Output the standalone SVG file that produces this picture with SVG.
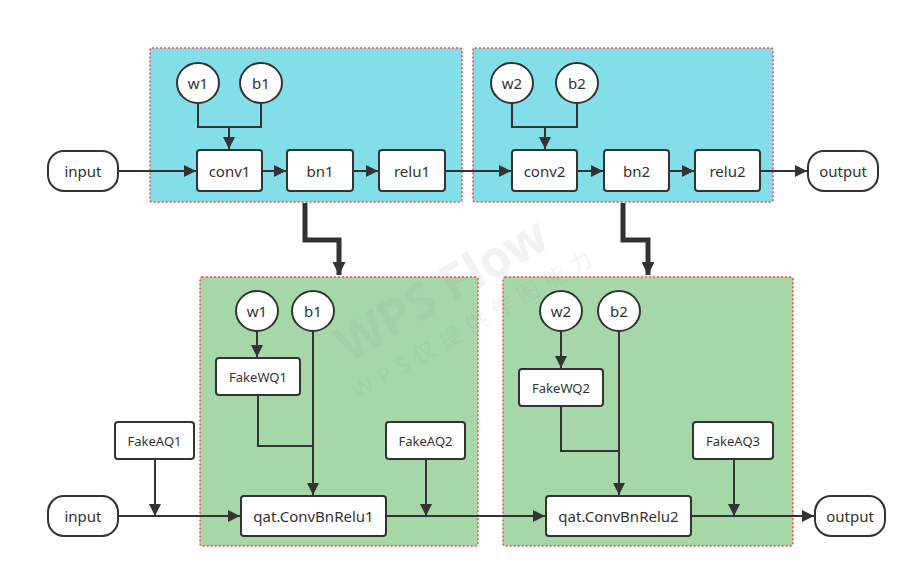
<svg xmlns="http://www.w3.org/2000/svg" width="916" height="579" viewBox="0 0 916 579">
<defs>
<marker id="ah" viewBox="0 0 10 10" refX="10" refY="5" markerWidth="12" markerHeight="12" markerUnits="userSpaceOnUse" orient="auto">
<path d="M0,0 L10,5 L0,10 z" fill="#333"/>
</marker>
<marker id="ahb" viewBox="0 0 10 10" refX="10" refY="5" markerWidth="13" markerHeight="13" markerUnits="userSpaceOnUse" orient="auto">
<path d="M0,0 L10,5 L0,10 z" fill="#333"/>
</marker>
</defs>
<style>
.grpc{fill:#82dee9;stroke:#f44;stroke-width:1.5;stroke-dasharray:2 2}
.grpg{fill:#a6d7a8;stroke:#f44;stroke-width:1.5;stroke-dasharray:2 2}
.n{fill:#fff;stroke:#333;stroke-width:2}
.t{font-family:"Noto Sans","Open Sans",sans-serif;font-size:15px;fill:#333;text-anchor:middle;dominant-baseline:central}
.ts{font-size:13px}
.c{fill:none;stroke:#333;stroke-width:2}
.ca{fill:none;stroke:#333;stroke-width:2;marker-end:url(#ah)}
.thick{fill:none;stroke:#333;stroke-width:5;marker-end:url(#ahb)}
.wm{font-family:"Noto Sans","Noto Sans CJK SC",sans-serif;fill:#999;opacity:0.12;text-anchor:middle;dominant-baseline:central}
</style>
<rect width="916" height="579" fill="#fff"/>
<g id="cluster1"><rect class="grpc" x="150" y="48" width="312" height="154" rx="2"/></g>
<g id="cluster2"><rect class="grpc" x="473" y="48" width="300" height="154" rx="2"/></g>
<g id="cluster3"><rect class="grpg" x="200" y="277" width="278" height="269" rx="2"/></g>
<g id="cluster4"><rect class="grpg" x="503" y="277" width="290" height="269" rx="2"/></g>

<g id="connectors">
<path class="ca" d="M118,171 H196"/>
<path class="c" d="M198,103 V127 H261 V103"/>
<path class="ca" d="M229,127 V149"/>
<path class="ca" d="M262,171 H286"/>
<path class="ca" d="M353,171 H378"/>
<path class="ca" d="M445,171 H511"/>
<path class="c" d="M512,103 V127 H577 V103"/>
<path class="ca" d="M545,127 V149"/>
<path class="ca" d="M577,171 H603"/>
<path class="ca" d="M669,171 H694"/>
<path class="ca" d="M760,171 H807"/>
<path class="thick" d="M305,203 V240 H339 V275"/>
<path class="thick" d="M623,203 V240 H648 V275"/>
<path class="ca" d="M118,516 H240"/>
<path class="ca" d="M155,459 V516"/>
<path class="ca" d="M257,332 V357"/>
<path class="c" d="M258,395 V446 H313"/>
<path class="ca" d="M313,332 V495"/>
<path class="ca" d="M386,516 H545"/>
<path class="ca" d="M426,459 V516"/>
<path class="ca" d="M561,332 V368"/>
<path class="c" d="M561,406 V451 H619"/>
<path class="ca" d="M619,332 V495"/>
<path class="ca" d="M691,516 H814"/>
<path class="ca" d="M734,459 V516"/>
</g>

<g id="input1"><rect class="n" x="48" y="151" width="70" height="40" rx="16"/><text class="t" x="83" y="171">input</text></g>
<g id="w1"><ellipse class="n" cx="198" cy="83" rx="21" ry="20"/><text class="t" x="198" y="83">w1</text></g>
<g id="b1"><ellipse class="n" cx="261" cy="83" rx="21" ry="20"/><text class="t" x="261" y="83">b1</text></g>
<g id="conv1"><rect class="n" x="197" y="150" width="65" height="41" rx="3"/><text class="t" x="229.5" y="171">conv1</text></g>
<g id="bn1"><rect class="n" x="287" y="150" width="66" height="41" rx="3"/><text class="t" x="320" y="171">bn1</text></g>
<g id="relu1"><rect class="n" x="379" y="150" width="66" height="41" rx="3"/><text class="t" x="412" y="171">relu1</text></g>
<g id="w2"><ellipse class="n" cx="512" cy="83" rx="21" ry="20"/><text class="t" x="512" y="83">w2</text></g>
<g id="b2"><ellipse class="n" cx="577" cy="83" rx="21" ry="20"/><text class="t" x="577" y="83">b2</text></g>
<g id="conv2"><rect class="n" x="512" y="150" width="65" height="41" rx="3"/><text class="t" x="544.5" y="171">conv2</text></g>
<g id="bn2"><rect class="n" x="604" y="150" width="65" height="41" rx="3"/><text class="t" x="636.5" y="171">bn2</text></g>
<g id="relu2"><rect class="n" x="695" y="150" width="65" height="41" rx="3"/><text class="t" x="727.5" y="171">relu2</text></g>
<g id="output1"><rect class="n" x="808" y="151" width="70" height="40" rx="16"/><text class="t" x="843" y="171">output</text></g>

<g id="input2"><rect class="n" x="48" y="496" width="70" height="40" rx="16"/><text class="t" x="83" y="516">input</text></g>
<g id="FakeAQ1"><rect class="n" x="115" y="422" width="79" height="37" rx="3"/><text class="t ts" x="154.5" y="440.5">FakeAQ1</text></g>
<g id="w1q"><ellipse class="n" cx="257" cy="311" rx="21" ry="20"/><text class="t" x="257" y="311">w1</text></g>
<g id="b1q"><ellipse class="n" cx="313" cy="311" rx="21" ry="20"/><text class="t" x="313" y="311">b1</text></g>
<g id="FakeWQ1"><rect class="n" x="216" y="358" width="84" height="37" rx="3"/><text class="t ts" x="258" y="376.5">FakeWQ1</text></g>
<g id="qat1"><rect class="n" x="241" y="496" width="145" height="40" rx="3"/><text class="t" x="313.5" y="516">qat.ConvBnRelu1</text></g>
<g id="FakeAQ2"><rect class="n" x="386" y="422" width="79" height="37" rx="3"/><text class="t ts" x="425.5" y="440.5">FakeAQ2</text></g>
<g id="w2q"><ellipse class="n" cx="561" cy="311" rx="21" ry="20"/><text class="t" x="561" y="311">w2</text></g>
<g id="b2q"><ellipse class="n" cx="619" cy="311" rx="21" ry="20"/><text class="t" x="619" y="311">b2</text></g>
<g id="FakeWQ2"><rect class="n" x="519" y="369" width="84" height="37" rx="3"/><text class="t ts" x="561" y="387.5">FakeWQ2</text></g>
<g id="qat2"><rect class="n" x="546" y="496" width="145" height="40" rx="3"/><text class="t" x="618.5" y="516">qat.ConvBnRelu2</text></g>
<g id="FakeAQ3"><rect class="n" x="693" y="422" width="80" height="37" rx="3"/><text class="t ts" x="733" y="440.5">FakeAQ3</text></g>
<g id="output2"><rect class="n" x="815" y="496" width="70" height="40" rx="16"/><text class="t" x="850" y="516">output</text></g>

<g id="watermark">
<text class="wm" font-size="50" font-weight="bold" transform="translate(441 288) rotate(-30)">WPS Flow</text>
<text class="wm" font-size="22" letter-spacing="8" transform="translate(475 322) rotate(-30)">WPS仅提供作图能力</text>
</g>
</svg>
